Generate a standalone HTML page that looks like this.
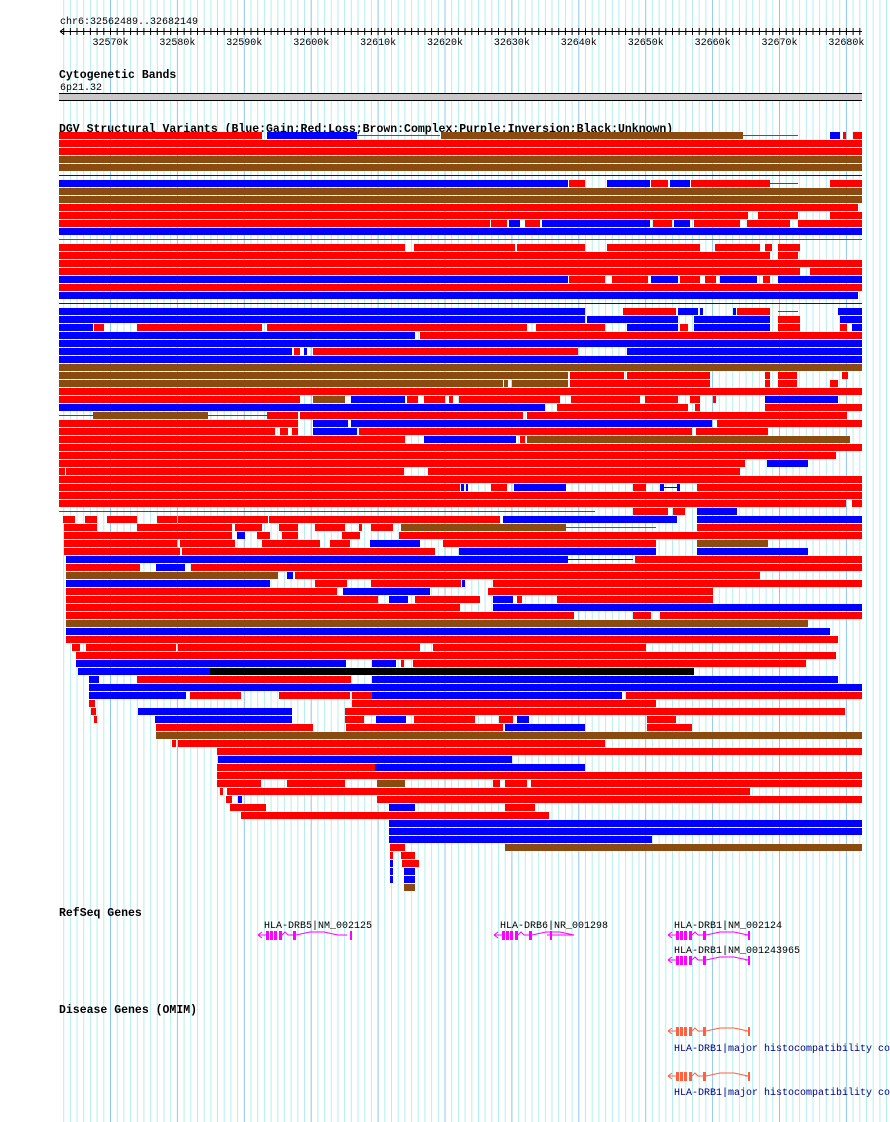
<!DOCTYPE html>
<html><head><meta charset="utf-8"><style>
body{margin:0;background:#fff;}
svg{display:block}
text{font-family:"Liberation Mono",monospace;font-size:10px;}
.b{font-weight:bold;font-size:11.5px;letter-spacing:0px}
</style></head><body>
<svg id="s" width="890" height="1122" xmlns="http://www.w3.org/2000/svg"></svg>
<script>
const s=document.getElementById('s');let h='';
const x0=110.5,st=6.69;
for(let i=-8;i<=117;i++){const x=x0+i*st;if(x<58||x>890)continue;const maj=(i%10===0);
h+=`<line x1="${x.toFixed(1)}" y1="0" x2="${x.toFixed(1)}" y2="1122" stroke="${maj?'#8cc8ec':'#b4eef0'}" stroke-width="1"/>`;}
h+=`<text x="60" y="24">chr6:32562489..32682149</text>`;
h+=`<line x1="60" y1="31.5" x2="862" y2="31.5" stroke="#000"/>`;
h+=`<path d="M60 31.5l4 -3M60 31.5l4 3" stroke="#000" fill="none"/>`;
for(let i=-7;i<=113;i++){const x=x0+i*st;if(x<60||x>862)continue;h+=`<line x1="${x.toFixed(1)}" y1="28" x2="${x.toFixed(1)}" y2="35" stroke="#000"/>`;}
for(let k=0;k<12;k++){const x=x0+k*10*st;h+=`<text x="${x.toFixed(1)}" y="45" text-anchor="middle">${32570+k*10}k</text>`;}
h+=`<text class="b" x="59" y="78">Cytogenetic Bands</text><text x="60" y="90">6p21.32</text>`;
h+=`<rect x="59" y="93" width="803" height="8" fill="#c8c8c8"/><line x1="59" y1="93.5" x2="862" y2="93.5" stroke="#000"/><line x1="59" y1="100.5" x2="862" y2="100.5" stroke="#000"/>`;
h+=`<text class="b" x="59" y="132">DGV Structural Variants (Blue:Gain;Red:Loss;Brown:Complex;Purple:Inversion;Black:Unknown)</text>`;
const C={R:'#ff0000',B:'#0000ff',N:'#8b4a10',K:'#000'};
const rows=`133:R59-262,B267-357,lN357-440,N441-743,lN743-798,B830-840,R843-846,R853-862
141:R59-862
149:R59-862
157:N59-862
165:N59-862
173:lB59-862
181:B59-568,R569-585,B607-650,R651-668,B670-690,R691-770,lR770-798,R830-862
189:N59-862
197:N59-862
205:R59-858
213:R59-748,R758-798,R830-862
221:R59-490,R491-507,B509-520,R525-540,B542-650,R653-672,B674-690,R694-740,R747-790,R798-862
229:B59-862
237:lN59-862
245:R59-405,R414-515,R517-585,R607-700,R715-760,R765-772,R778-800
253:R59-770,R778-798
261:R59-862
269:R59-800,R810-862
277:B59-568,R569-605,R612-648,B651-678,R680-700,R705-716,B720-757,R763-770,B778-862
285:R59-862
293:B59-858
301:lB59-862
309:B59-585,R623-676,B678-698,B700-703,B733-736,R737-770,lR778-798,B838-862
317:B59-585,B587-678,B694-770,R778-800,B840-862
325:B59-93,R94-104,R137-262,R267-527,R536-605,B627-678,R680-688,B694-770,R778-800,R840-847,B852-862
333:B59-415,R420-862
341:B59-862
349:B59-292,R294-300,B304-307,R313-578,B627-862
357:B59-862
365:N59-862
373:N59-568,R570-624,R627-710,R765-770,R778-797,R842-848
381:N59-503,N504-508,N512-568,R570-710,R765-770,R778-797,R830-838
389:R59-862
397:R59-300,N313-345,B351-405,R407-418,R424-445,R449-453,R459-560,R571-640,R645-678,R690-700,R713-716,B765-838
405:B59-545,R557-688,R695-700,R765-862
413:lR59-93,N93-208,lR208-267,R267-298,R300-523,R527-847
421:R59-298,B313-348,B351-712,R717-862
429:R59-275,R280-288,R292-298,B313-357,R359-692,R696-768
437:R59-405,B424-516,R520-525,N527-850
445:R59-862
453:R59-836
461:R59-745,B767-808
469:R59-65,R66-404,R428-740
477:R59-862
485:R59-460,B461-464,B466-468,R491-507,B514-566,R633-646,B660-664,lB664-680,B677-680,R697-862
493:R59-862
501:R59-846,R852-862
509:lR59-595,R633-668,R673-685,B697-737
517:R63-75,R85-97,R107-137,R157-177,R178-268,R269-500,B503-677,B697-862
525:R64-97,R137-232,R235-262,R279-298,R315-345,R359-362,R371-393,N401-566,lN566-656,R697-862
533:R64-232,B237-245,R257-270,R282-298,R342-360,R399-862
541:R64-177,R180-235,R262-320,R330-350,B370-420,R443-656,N697-768
549:R64-180,R182-435,B459-656,B697-808
557:B66-568,lB568-633,R635-862
565:R66-140,B156-185,R191-862
573:N66-278,B287-293,R295-760
581:B66-270,R315-347,R371-461,B462-465,R493-862
589:R66-337,B343-430,R488-713
597:R66-378,B389-408,R415-480,B493-513,R517-522,R557-713
605:R66-460,B493-862
613:R66-574,R633-651,R660-862
621:N66-808
629:B66-830
637:R66-838
645:R72-80,R86-176,R178-420,R433-646
653:R76-836
661:B76-346,B372-396,R401-404,R413-806
669:B78-210,K210-694
677:B89-99,R137-351,B372-838
685:B89-862
693:B89-186,R190-241,R279-350,R352-404,B372-622,R626-862
701:R89-95,R352-656
709:R91-96,B138-292,R345-845
717:R94-97,B155-292,R345-364,B376-406,R414-475,R499-513,B517-529,R647-676
725:R156-313,R346-503,B505-585,R647-692
733:N156-862
741:R172-176,R178-605
749:R217-862
757:B218-512
765:R217-585,B375-585
773:R217-345,R279-862
781:R217-261,R287-345,N377-405,R493-500,R505-527,R531-862
789:R220-223,R227-750
797:R226-232,B238-242,R377-862
805:R230-266,B389-415,R505-535
813:R241-549
821:B389-862
829:B389-862
837:B389-652
845:R390-405,N505-862
853:R390-393,R401-415
861:B390-393,R402-419
869:B390-393,B404-415
877:B390-393,B404-415
885:N404-415`;
rows.split('\n').forEach(l=>{let [y,segs]=l.split(':');y=+y-1;
segs.split(',').forEach(g=>{let line=g[0]==='l';if(line)g=g.slice(1);const c=C[g[0]];let [a,b]=g.slice(1).split('-').map(Number);
if(line)h+=`<rect x="${a}" y="${y+3}" width="${b-a}" height="1" fill="${c}"/>`;
else h+=`<rect x="${a}" y="${y}" width="${b-a}" height="7" fill="${c}"/>`;});});
function gene(x,y,col,w){
 let g=`<g stroke="${col}" fill="${col}">`;
 g+=`<path d="M${x} ${y}l4 -3M${x} ${y}l4 3" fill="none"/><line x1="${x}" y1="${y}" x2="${x+8}" y2="${y}"/>`;
 [[8,3],[12,3],[16,3],[21,3],[35,3]].forEach(([o,ww])=>g+=`<rect x="${x+o}" y="${y-4}" width="${ww}" height="9" stroke="none"/>`);
 g+=`<path d="M${x+24} ${y}l3 -3 3 3 5 0" fill="none"/>`;
 g+=`<path d="M${x+38} ${y}l14 -3 14 0 14 3 ${w-84} 0" fill="none"/>`;
 g+=`<rect x="${x+w-1}" y="${y-4}" width="2" height="9" stroke="none"/></g>`;return g;}
h+=`<text class="b" x="59" y="916">RefSeq Genes</text>`;
h+=`<text x="264" y="928">HLA-DRB5|NM_002125</text>`+gene(258,935,'#ff00ff',93);
h+=`<text x="500" y="928">HLA-DRB6|NR_001298</text>`+gene(494,935,'#ff00ff',57);
h+=`<text x="674" y="928">HLA-DRB1|NM_002124</text>`+gene(668,935,'#ff00ff',81);
h+=`<text x="674" y="953">HLA-DRB1|NM_001243965</text>`+gene(668,960,'#ff00ff',81);
h+=`<text class="b" x="59" y="1013">Disease Genes (OMIM)</text>`;
h+=gene(668,1031,'#ff6040',81)+`<text x="674" y="1051" fill="#000080">HLA-DRB1|major histocompatibility co</text>`;
h+=gene(668,1076,'#ff6040',81)+`<text x="674" y="1095" fill="#000080">HLA-DRB1|major histocompatibility co</text>`;
s.innerHTML=h;
</script>
</body></html>
